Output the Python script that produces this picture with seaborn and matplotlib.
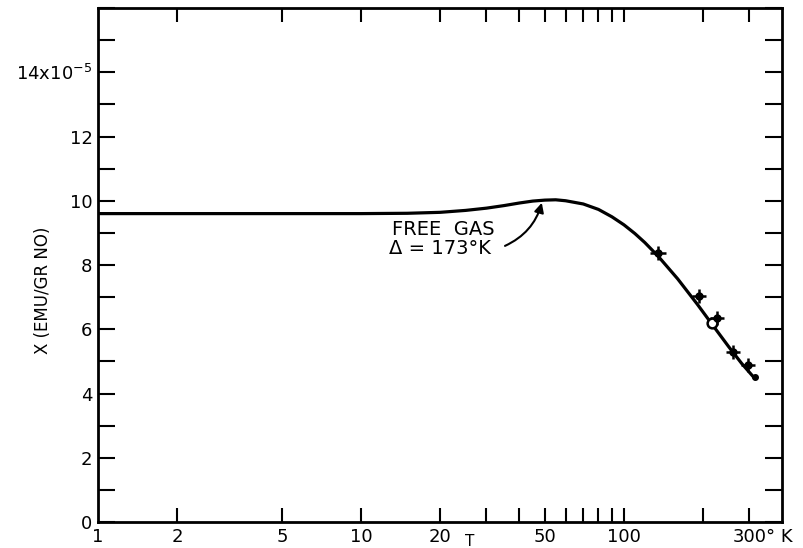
import numpy as np
import pandas as pd
import matplotlib
matplotlib.use("Agg")
import matplotlib.pyplot as plt
import seaborn as sns
from matplotlib.ticker import FixedLocator, NullLocator

sns.set_style("ticks")
plt.rcParams['font.family'] = ['DejaVu Sans']
plt.rcParams['text.color'] = 'black'
plt.rcParams['axes.labelcolor'] = 'black'
plt.rcParams['xtick.color'] = 'black'
plt.rcParams['ytick.color'] = 'black'

# Theoretical curve (free gas, Delta = 173 K)
curve_T = [1, 5, 10, 15, 20, 25, 30, 35, 40, 45, 50, 55, 60, 70, 80, 90, 100,
           110, 120, 135, 160, 190, 216, 250, 280, 315]
curve_chi = [9.6, 9.6, 9.6, 9.61, 9.64, 9.7, 9.77, 9.85, 9.93, 9.99, 10.02, 10.03,
             10.0, 9.9, 9.73, 9.5, 9.25, 8.98, 8.7, 8.27, 7.57, 6.78, 6.16, 5.46,
             4.94, 4.46]

# Measured points (filled, with error bars)
meas_T = [135, 193, 226, 260, 296]
meas_chi = [8.37, 7.03, 6.34, 5.28, 4.9]
meas_Terr = [9, 12, 14, 16, 18]
meas_chierr = [0.22, 0.22, 0.22, 0.22, 0.22]

# Open-circle point and terminal dot
open_T = [216]
open_chi = [6.19]
end_T = [316]
end_chi = [4.5]

xtick_pos = [2, 5, 10, 20, 30, 40, 50, 60, 70, 80, 90, 100, 200, 300]
xtick_lab = {1: "1", 2: "2", 5: "5", 10: "10", 20: "20", 50: "50", 100: "100", 300: "300"}
ytick_lab = {0: "0", 2: "2", 4: "4", 6: "6", 8: "8", 10: "10", 12: "12", 14: "14x10$^{-5}$"}

fig = plt.figure(figsize=(8.04, 5.48), dpi=100)
ax = fig.add_axes([0.122, 0.0474, 0.851, 0.938])

df = pd.DataFrame({"T": curve_T, "chi": curve_chi})
sns.lineplot(data=df, x="T", y="chi", ax=ax, color="black", lw=2.3, sort=False)

ax.errorbar(meas_T, meas_chi, xerr=meas_Terr, yerr=meas_chierr, fmt="o",
            color="black", ms=5, elinewidth=1.8, capsize=0)
ax.plot(open_T, open_chi, "o", mfc="white", mec="black", ms=7, mew=1.8)
ax.plot(end_T, end_chi, "o", color="black", ms=4)

ax.set_xscale("log")
ax.set_xlim(1, 400)
ax.set_ylim(0, 16)

# x ticks
ax.xaxis.set_major_locator(FixedLocator(xtick_pos))
ax.xaxis.set_minor_locator(NullLocator())
ax.set_xticklabels([])
ax.tick_params(axis="x", which="major", direction="in", length=10, width=1.5,
               top=True, bottom=True, pad=6)
# y ticks
ax.yaxis.set_major_locator(FixedLocator(list(range(0, 17))))
ax.set_yticklabels([ytick_lab.get(v, "") for v in range(0, 17)], fontsize=13)
ax.tick_params(axis="y", which="major", direction="in", length=12, width=1.5,
               left=True, right=True, pad=4)

for s in ax.spines.values():
    s.set_linewidth(2)
    s.set_color("black")

# x tick labels as texts below the axis
trans = ax.get_xaxis_transform()
for v, lab in xtick_lab.items():
    ax.text(v, -0.012, lab, transform=trans, ha="center", va="top", fontsize=13)
ax.text(347, -0.012, "° K", transform=trans, ha="left", va="top", fontsize=13,
        clip_on=False)
ax.text(26, -0.037, "T", transform=trans, ha="center", va="center", fontsize=11)

ax.set_xlabel("")
ax.set_ylabel("X (EMU/GR NO)", fontsize=12)
ax.yaxis.set_label_coords(-0.068, 0.45)

ax.annotate("", xy=(49, 10.02), xytext=(34.5, 8.56),
            arrowprops=dict(arrowstyle="-|>", color="black", lw=1.5,
                            connectionstyle="arc3,rad=0.25", mutation_scale=14))
ax.text(20.5, 9.12, "FREE  GAS", ha="center", va="center", fontsize=14)
ax.text(20.0, 8.5, "Δ = 173°K", ha="center", va="center", fontsize=14)

fig.savefig("out.png", dpi=100)
